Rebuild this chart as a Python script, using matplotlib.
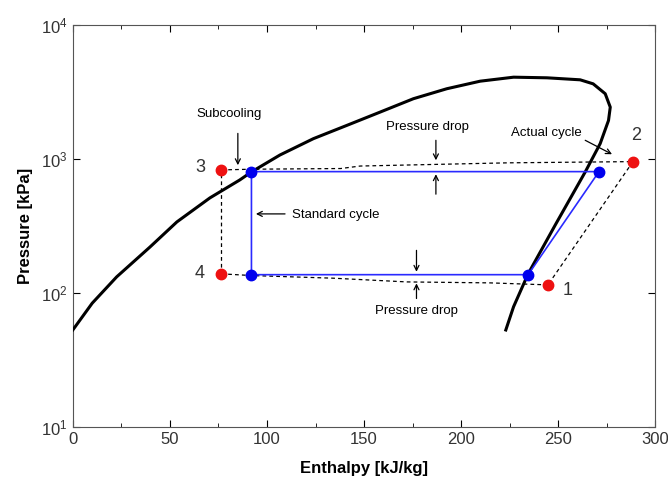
import matplotlib
matplotlib.use("Agg")
import matplotlib.pyplot as plt
from matplotlib.ticker import MultipleLocator, NullLocator, FixedLocator

plt.rcParams['font.family'] = ['Liberation Sans', 'DejaVu Sans']
plt.rcParams['mathtext.fontset'] = 'custom'
plt.rcParams['mathtext.rm'] = 'Liberation Sans'
plt.rcParams['mathtext.it'] = 'Liberation Sans'

# Saturation dome (enthalpy kJ/kg, pressure kPa)
dome_h = [0, 10, 22.6, 39.7, 53.6, 70.6, 86, 92, 106.7, 123.9, 141.1, 158.2,
          175.4, 192.6, 209.8, 227, 244.2, 261.3, 268, 274.2, 276.8, 275.9,
          271.6, 264, 248.9, 234.5, 227, 223]
dome_p = [53, 84, 132, 220, 339, 512, 697, 800, 1070, 1416, 1778, 2233,
          2812, 3337, 3800, 4070, 4027, 3890, 3630, 3064, 2433, 1936,
          1300, 804, 330, 139, 79, 53]

# Standard cycle (blue)
std_h = [92, 271, 234.5, 92, 92]
std_p = [804, 804, 137, 137, 804]

# Actual cycle points (red): 3, 2, 1, 4
act_h = [76.5, 288.5, 244.7, 76.5]
act_p = [828, 955, 115, 139]

# Actual cycle dashed path
top_h = [76.5, 92, 138, 148, 224, 288.5]
top_p = [828, 838, 848, 885, 935, 955]
comp_h = [288.5, 244.7]
comp_p = [955, 115]
bot_h = [244.7, 215, 172, 134, 92, 76.5]
bot_p = [115, 119, 121, 129, 135, 139]
exp_h = [76.5, 76.5]
exp_p = [139, 828]

fig = plt.figure(figsize=(6.68, 4.87), dpi=100)
ax = fig.add_axes([0.109, 0.123, 0.872, 0.826])

ax.plot(dome_h, dome_p, color='black', lw=2.2, zorder=3,
        solid_joinstyle='round')
dash = dict(color='black', lw=0.9, ls=(0, (3, 2.5)), zorder=2)
ax.plot(top_h, top_p, **dash)
ax.plot(comp_h, comp_p, **dash)
ax.plot(bot_h, bot_p, **dash)
ax.plot(exp_h, exp_p, **dash)
ax.plot(std_h, std_p, color='#2a2aff', lw=1.2, zorder=4)
ax.plot(std_h[:4], std_p[:4], 'o', color='#0000ee', ms=7.5, zorder=5)
ax.plot(act_h, act_p, 'o', color='#ee1111', ms=7.5, zorder=5)

ax.set_yscale('log')
ax.set_xlim(0, 300)
ax.set_ylim(10, 10000)
ax.xaxis.set_major_locator(MultipleLocator(50))
ax.xaxis.set_minor_locator(MultipleLocator(25))
ax.yaxis.set_major_locator(FixedLocator([10, 100, 1000, 10000]))
ax.yaxis.set_minor_locator(NullLocator())
ax.set_yticklabels([r'$10^{1}$', r'$10^{2}$', r'$10^{3}$', r'$10^{4}$'])
ax.tick_params(which='both', direction='in', top=True, right=True,
               labelsize=12, labelcolor='#333333')
ax.tick_params(which='major', length=5)
ax.tick_params(which='minor', length=3)
for s in ax.spines.values():
    s.set_color('#555555')

ax.set_xlabel('Enthalpy [kJ/kg]', fontsize=12, fontweight='bold', labelpad=10)
ax.set_ylabel('Pressure [kPa]', fontsize=12, fontweight='bold', labelpad=6)

# point labels
lab_pos = {'3': (65.5, 865), '2': (290, 1496), '1': (255, 105), '4': (65.5, 140)}
for k, (x, y) in lab_pos.items():
    ax.text(x, y, k, fontsize=13, color='#333333', ha='center', va='center')

arr = dict(arrowstyle='->', color='black', lw=0.9, shrinkA=0, shrinkB=0,
           mutation_scale=9)
fs = 9.5
ax.text(80.4, 2150, 'Subcooling', fontsize=fs, ha='center', va='center')
ax.annotate('', xy=(85, 898), xytext=(85, 1550), arrowprops=arr)

ax.text(182.5, 1720, 'Pressure drop', fontsize=fs, ha='center', va='center')
ax.annotate('', xy=(187, 977), xytext=(187, 1377), arrowprops=arr)
ax.annotate('', xy=(187, 769), xytext=(187, 546), arrowprops=arr)

ax.text(243.8, 1560, 'Actual cycle', fontsize=fs, ha='center', va='center')
ax.annotate('', xy=(277.7, 1084), xytext=(263.9, 1377), arrowprops=arr)

ax.text(112.7, 380, 'Standard cycle', fontsize=fs, ha='left', va='center')
ax.annotate('', xy=(94.3, 389), xytext=(109.3, 389), arrowprops=arr)

ax.annotate('', xy=(177, 144), xytext=(177, 208), arrowprops=arr)
ax.annotate('', xy=(177, 118), xytext=(177, 91), arrowprops=arr)
ax.text(176.8, 73.3, 'Pressure drop', fontsize=fs, ha='center', va='center')

fig.savefig('out.png', dpi=100)
